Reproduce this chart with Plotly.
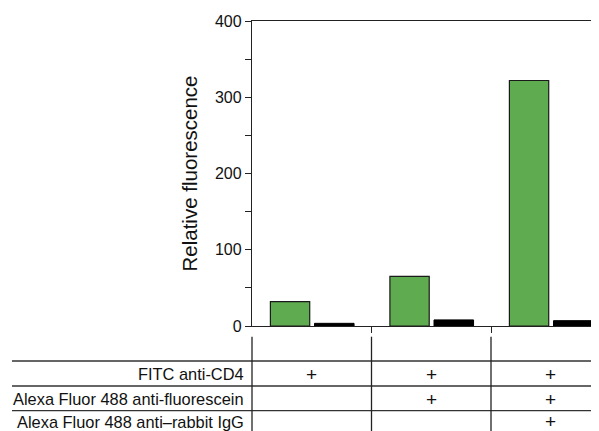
import plotly.graph_objects as go

# ---- data ----
conditions = [0, 1, 2]
green_values = [32, 65, 322]
black_values = [3.5, 8, 7]
row_labels = ["FITC anti-CD4", "Alexa Fluor 488 anti-fluorescein", "Alexa Fluor 488 anti\u2013rabbit IgG"]
row_marks = [
    [True, True, True],
    [False, True, True],
    [False, False, True],
]
y_tick_vals = [0, 100, 200, 300, 400]
y_tick_text = ["0", "100", "200", "300", "400"]

GREEN = "#5fab4f"
FONT = "Liberation Sans, Arial, Helvetica, sans-serif"
LINE = "#222222"

fig = go.Figure()
fig.add_trace(go.Bar(x=conditions, y=green_values, width=0.329, offset=-0.346,
                     marker=dict(color=GREEN, line=dict(color="#1a1a1a", width=1.2)),
                     showlegend=False))
fig.add_trace(go.Bar(x=conditions, y=black_values, width=0.331, offset=0.023,
                     marker=dict(color="#000000", line=dict(color="#000000", width=1)),
                     showlegend=False))

H = 305.0  # plot height px
def py(ypx):
    return (326 - ypx) / H

shapes = []
# horizontal table lines
for ypx in [361, 386, 410.7]:
    shapes.append(dict(type="line", xref="paper", yref="paper",
                       x0=(12 - 252) / 347.0, x1=1.0, y0=py(ypx), y1=py(ypx),
                       line=dict(color="#333333", width=1.3)))
# vertical table lines
shapes.append(dict(type="line", xref="paper", yref="paper", x0=0, x1=0,
                   y0=py(336.7), y1=py(440), line=dict(color=LINE, width=1.3)))
for xb in [0.5, 1.5]:
    shapes.append(dict(type="line", xref="x", yref="paper", x0=xb, x1=xb,
                       y0=py(336.7), y1=py(440), line=dict(color=LINE, width=1.3)))

annotations = []
row_y = [374, 399, 421.5]
for label, marks, ypx in zip(row_labels, row_marks, row_y):
    annotations.append(dict(xref="paper", yref="paper", x=0, y=py(ypx), xshift=-6,
                            text=label, showarrow=False, xanchor="right", yanchor="middle",
                            font=dict(family=FONT, size=16.4, color="#111111")))
    for c, m in zip(conditions, marks):
        if m:
            annotations.append(dict(xref="x", yref="paper", x=c, y=py(ypx),
                                    text="+", showarrow=False, xanchor="center", yanchor="middle",
                                    font=dict(family=FONT, size=19, color="#111111")))

# page body has an 8px margin: shrink the figure by 8px so the plot lands where intended
fig.update_layout(
    width=591, height=423,
    margin=dict(l=244, r=0, t=13, b=105),
    paper_bgcolor="white", plot_bgcolor="white",
    font=dict(family=FONT, size=16, color="#111111"),
    shapes=shapes, annotations=annotations,
    xaxis=dict(range=[-0.5, -0.5 + 347 / 119.5], showgrid=False, zeroline=False,
               showline=True, linecolor=LINE, linewidth=1.3, mirror=True,
               tickvals=[0.5, 1.5], ticks="outside", ticklen=6, tickwidth=1.3,
               tickcolor=LINE, showticklabels=False),
    yaxis=dict(range=[0, 400], showgrid=False, zeroline=False,
               showline=True, linecolor=LINE, linewidth=1.3,
               tickvals=y_tick_vals, ticktext=y_tick_text,
               ticks="outside", ticklen=6, tickwidth=1.3, tickcolor=LINE,
               minor=dict(dtick=50, tick0=0, ticks="outside", ticklen=6, tickwidth=1.3, tickcolor=LINE),
               tickfont=dict(family=FONT, size=16, color="#111111"),
               title=dict(text="Relative fluorescence", standoff=11,
                          font=dict(family=FONT, size=20.5, color="#111111"))),
)

fig.write_html("out.html")
